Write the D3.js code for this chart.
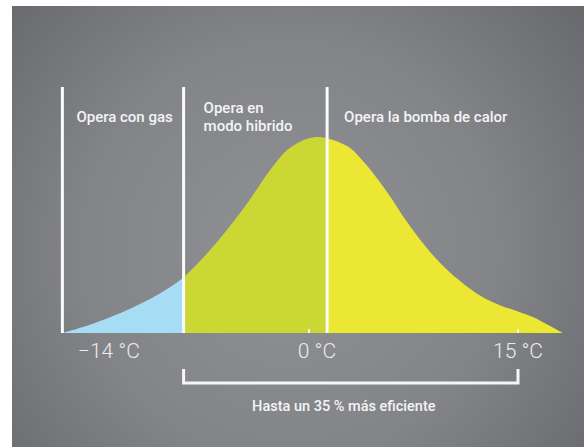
<!DOCTYPE html>
<html>
<head>
<meta charset="utf-8">
<script src="https://cdn.jsdelivr.net/npm/d3@7"></script>
<style>
  html, body { margin: 0; padding: 0; background: #ffffff; }
  svg { display: block; font-family: Roboto, "Open Sans", sans-serif; }
</style>
</head>
<body>
<svg id="chart" width="584" height="447"></svg>
<script>
// Outdoor temperature (°C) and relative share of heating hours (peak = 100)
const temps  = [-17.7, -15.4, -12.5, -10.3, -9.0, -6.9, -4.45, -2.8, -1.36, 0.5, 2.7, 3.9, 5.6, 7.0, 8.5, 10.1, 12.3, 13.7, 15.0, 16.1, 17.2, 18.2];
const shares = [0, 5, 13.5, 22, 28.5, 44, 66, 83, 94.5, 100, 95.5, 87.5, 72, 57, 43, 31, 19, 14.2, 11, 8, 3.9, 0];

// Operating modes: boundaries in °C
const modeNames  = ["Opera con gas", "Opera en\nmodo hibrido", "Opera la bomba de calor"];
const modeStarts = [-17.7, -9.0, 1.3];
const modeEnds   = [-9.0, 1.3, 18.2];
const modeColors = ["#a6ddf4", "#cbd733", "#ebe732"];

// Axis labels
const tickValues = [-14, 0, 15];
const tickLabels = ["\u221214 \u00b0C", "0 \u00b0C", "15 \u00b0C"];
const tickMarks  = [0, 15];

// Efficiency bracket
const bracketFrom = -9.0;
const bracketTo   = 15;
const bracketText = "Hasta un 35 % m\u00e1s eficiente";

const svg = d3.select("#chart");
const W = 584, H = 447;

const x = d3.scaleLinear().domain([0, 15]).range([309, 518]);
const y = d3.scaleLinear().domain([0, 100]).range([333, 137]);

// Background panel with soft radial shading
const defs = svg.append("defs");
const rg = defs.append("radialGradient").attr("id", "bg")
  .attr("gradientUnits", "userSpaceOnUse")
  .attr("cx", 290).attr("cy", 250).attr("r", 380);
rg.append("stop").attr("offset", "0%").attr("stop-color", "#909195");
rg.append("stop").attr("offset", "55%").attr("stop-color", "#838488");
rg.append("stop").attr("offset", "100%").attr("stop-color", "#68696d");
svg.append("rect").attr("x", 12).attr("y", 6).attr("width", W - 12).attr("height", H - 6)
  .attr("fill", "url(#bg)");

const pts = temps.map((t, i) => ({ t, v: shares[i] }));
const area = d3.area()
  .x(d => x(d.t))
  .y0(y(0))
  .y1(d => y(d.v))
  .curve(d3.curveCatmullRom.alpha(0.5));

// One clipped copy of the distribution per operating mode
modeStarts.forEach((s, i) => {
  defs.append("clipPath").attr("id", "clip" + i)
    .append("rect")
    .attr("x", x(s)).attr("y", 0)
    .attr("width", x(modeEnds[i]) - x(s)).attr("height", y(0));
  svg.append("path")
    .datum(pts)
    .attr("d", area)
    .attr("fill", modeColors[i])
    .attr("clip-path", `url(#clip${i})`);
});

// Mode boundary lines
const lineTop = y(125.5);
svg.selectAll("line.mode").data(modeStarts).join("line")
  .attr("class", "mode")
  .attr("x1", d => x(d)).attr("x2", d => x(d))
  .attr("y1", lineTop).attr("y2", y(0))
  .attr("stroke", "#fbfbfb").attr("stroke-width", 3);

// Mode labels
const labelOffsets = [14, 20, 17];
modeNames.forEach((name, i) => {
  const rows = name.split("\n");
  const t = svg.append("text")
    .attr("x", x(modeStarts[i]) + labelOffsets[i])
    .attr("y", rows.length > 1 ? 113 : 122)
    .attr("fill", "#f4f4f4")
    .attr("font-size", 15)
    .attr("font-weight", 500);
  rows.forEach((r, k) => {
    t.append("tspan").attr("x", x(modeStarts[i]) + labelOffsets[i])
      .attr("dy", k === 0 ? 0 : 18).text(r);
  });
});

// Tick marks on the baseline
svg.selectAll("line.tick").data(tickMarks).join("line")
  .attr("class", "tick")
  .attr("x1", d => x(d)).attr("x2", d => x(d))
  .attr("y1", y(0) - 4).attr("y2", y(0))
  .attr("stroke", "#f4f4f4").attr("stroke-width", 2);

// Temperature labels
const tickDx = [-5, 8, 0];
svg.selectAll("text.tl").data(tickValues).join("text")
  .attr("class", "tl")
  .attr("x", (d, i) => x(d) + tickDx[i])
  .attr("y", 358)
  .attr("text-anchor", "middle")
  .attr("fill", "#ececec")
  .attr("font-size", 21)
  .attr("font-weight", 300)
  .text((d, i) => tickLabels[i]);

// Efficiency bracket
const bx0 = x(bracketFrom), bx1 = x(bracketTo);
svg.append("path")
  .attr("d", `M${bx0},369 V383 H${bx1} V369`)
  .attr("fill", "none")
  .attr("stroke", "#f6f6f6")
  .attr("stroke-width", 3);
svg.append("text")
  .attr("x", (bx0 + bx1) / 2 - 7)
  .attr("y", 411)
  .attr("text-anchor", "middle")
  .attr("fill", "#f4f4f4")
  .attr("font-size", 14.5)
  .attr("font-weight", 500)
  .text(bracketText);
</script>
</body>
</html>
